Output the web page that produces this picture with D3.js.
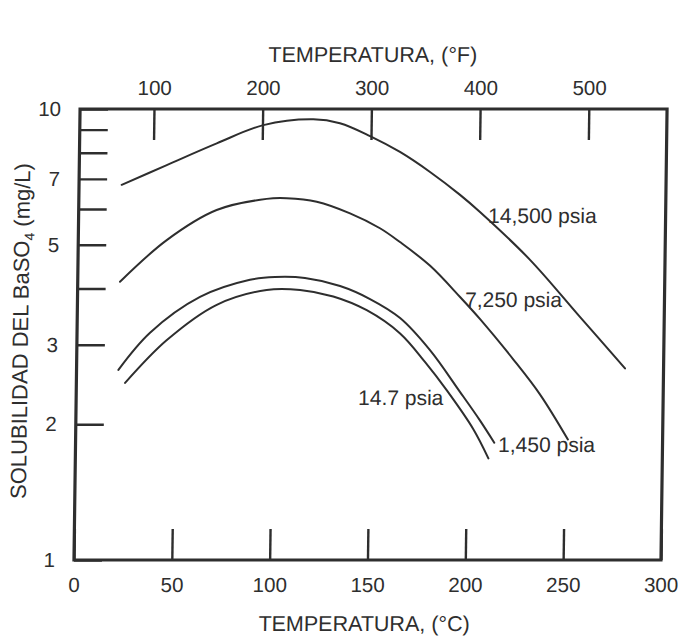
<!DOCTYPE html>
<html>
<head>
<meta charset="utf-8">
<script src="https://cdn.jsdelivr.net/npm/d3@7/dist/d3.min.js"></script>
<style>
  html, body { margin: 0; padding: 0; background: #ffffff; }
  svg { display: block; }
  text { font-family: "Liberation Sans", Arial, Helvetica, sans-serif; fill: #2e2e2e; }
</style>
</head>
<body>
<svg id="chart" width="678" height="637"></svg>
<script>
// ---------- data (temperature °C, solubility mg/L) ----------
const seriesNames = ["14,500 psia", "7,250 psia", "1,450 psia", "14.7 psia"];

const t14500 = [21.8, 44.7, 70.1, 93.8, 119.3, 132.9, 148.4, 163.8, 179.3, 194.8, 205.1, 231.0, 256.9, 280.3];
const s14500 = [6.79, 7.51, 8.39, 9.21, 9.49, 9.30, 8.71, 8.03, 7.25, 6.45, 5.91, 4.63, 3.46, 2.66];

const t7250 = [21.6, 45.2, 70.5, 96.0, 106.2, 121.6, 138.7, 154.1, 164.4, 180.0, 195.5, 205.9, 223.0, 237.0, 251.6];
const s7250 = [4.14, 5.12, 5.97, 6.32, 6.34, 6.23, 5.87, 5.44, 5.07, 4.49, 3.83, 3.42, 2.79, 2.33, 1.85];

const t1450 = [21.4, 37.3, 62.6, 88.0, 100.8, 116.1, 134.1, 149.5, 165.0, 180.5, 196.1, 206.5, 214.0];
const s1450 = [2.64, 3.19, 3.83, 4.18, 4.24, 4.22, 4.05, 3.79, 3.44, 2.92, 2.36, 2.04, 1.82];

const t14_7 = [24.9, 45.8, 71.2, 96.6, 113.7, 130.7, 147.9, 165.1, 178.0, 189.3, 203.2, 211.1];
const s14_7 = [2.47, 3.07, 3.68, 3.97, 3.97, 3.84, 3.58, 3.18, 2.75, 2.38, 1.95, 1.68];

// curve label anchors (data units)
const labelT = [209.3, 198.1, 216.0, 144.1];
const labelS = [5.59, 3.64, 1.736, 2.21];

// axes
const xTicksC = [0, 50, 100, 150, 200, 250, 300];
const xTicksF = [100, 200, 300, 400, 500];
const yTicks = [1, 2, 3, 4, 5, 6, 7, 8, 9, 10];
const yLabels = [1, 2, 3, 5, 7, 10];

const xTitleBottom = "TEMPERATURA, (°C)";
const xTitleTop = "TEMPERATURA, (°F)";

// ---------- layout ----------
const L = 74, R = 661, T = 109, B = 560;
const ink = "#2e2e2e";
const skewK = 0.0135;

const svg = d3.select("#chart");
svg.append("rect").attr("width", 678).attr("height", 637).attr("fill", "#fff");

const g = svg.append("g")
  .attr("transform", `translate(${skewK * 558},0) skewX(${-Math.atan(skewK) * 180 / Math.PI})`);

const x = d3.scaleLinear().domain([0, 300]).range([L, R]);
const xF = d3.scaleLinear().domain([32, 572]).range([L, R]);
const y = d3.scaleLog().domain([1, 10]).range([B, T]);

// bottom axis (°C)
const ax = g.append("g").attr("transform", `translate(0,${B})`)
  .call(d3.axisBottom(x).tickValues(xTicksC).tickSize(-31).tickPadding(17).tickFormat(d3.format("d")));
// top axis (°F)
const axT = g.append("g").attr("transform", `translate(0,${T})`)
  .call(d3.axisTop(xF).tickValues(xTicksF).tickSize(-31).tickPadding(14).tickFormat(d3.format("d")));
// left axis (log)
const axL = g.append("g").attr("transform", `translate(${L},0)`)
  .call(d3.axisLeft(y).tickValues(yTicks).tickSize(-28).tickPadding(19)
    .tickFormat(d => yLabels.includes(d) ? String(d) : ""));

[ax, axT, axL].forEach(a => {
  a.select(".domain").remove();
  a.selectAll(".tick line").attr("stroke", ink).attr("stroke-width", 2.4);
  a.selectAll(".tick text").attr("fill", ink).style("font-size", "20.5px")
    .style("font-family", '"Liberation Sans", Arial, sans-serif');
});

// frame
g.append("rect")
  .attr("x", L).attr("y", T).attr("width", R - L).attr("height", B - T)
  .attr("fill", "none").attr("stroke", ink).attr("stroke-width", 3.2);

// curves
const line = d3.line()
  .x(d => x(d[0])).y(d => y(d[1]))
  .curve(d3.curveCatmullRom.alpha(0.5));

const seriesT = [t14500, t7250, t1450, t14_7];
const seriesS = [s14500, s7250, s1450, s14_7];

seriesT.forEach((ts, i) => {
  const pts = ts.map((t, j) => [t, seriesS[i][j]]);
  g.append("path").datum(pts)
    .attr("d", line)
    .attr("fill", "none")
    .attr("stroke", ink)
    .attr("stroke-width", 2)
    .attr("stroke-linecap", "round");
});

// curve labels
seriesNames.forEach((name, i) => {
  g.append("text")
    .attr("x", x(labelT[i])).attr("y", y(labelS[i]))
    .style("font-size", "21px")
    .text(name);
});

// axis titles
g.append("text")
  .attr("x", 366).attr("y", 62)
  .attr("text-anchor", "middle")
  .style("font-size", "21.5px")
  .text(xTitleTop);

g.append("text")
  .attr("x", 365).attr("y", 631)
  .attr("text-anchor", "middle")
  .style("font-size", "21.5px")
  .text(xTitleBottom);

const yt = g.append("text")
  .attr("transform", "translate(25,331) rotate(-90)")
  .attr("text-anchor", "middle")
  .style("font-size", "22px");
yt.append("tspan").text("SOLUBILIDAD DEL BaSO");
yt.append("tspan").attr("dy", 5).style("font-size", "14px").text("4");
yt.append("tspan").attr("dy", -5).text(" (mg/L)");
</script>
</body>
</html>
